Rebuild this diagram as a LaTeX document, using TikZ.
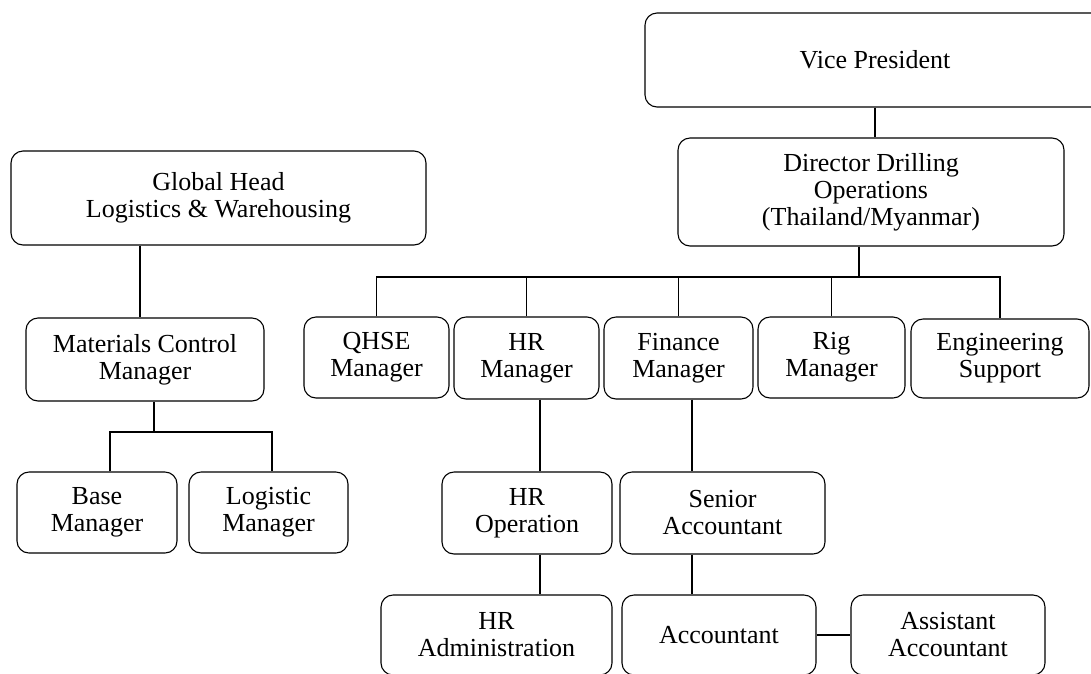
\documentclass[tikz,border=0pt]{standalone}
\usepackage{fontspec}
\setmainfont{Liberation Serif}
\tikzset{
  post/.style = {shape=rectangle, rounded corners=12pt,
                 draw, line width=1.1pt, align=center,
                 inner sep=0pt, font=\fontsize{26}{27}\selectfont},
  link/.style = {draw, line width=1.8pt}
}

\begin{document}
\begin{tikzpicture}
  [
  x = 1pt, y = -1pt,
  every node/.style = {post}
  ]
  \clip (0,0) rectangle (1091,673);

  % top of the chart
  \node (vp)  [minimum width=460pt, minimum height=94pt]  at (875,60)    {Vice President};
  \node (dir) [minimum width=386pt, minimum height=108pt] at (871,192)   {Director Drilling\\Operations\\(Thailand/Myanmar)};
  \node (gh)  [minimum width=415pt, minimum height=94pt]  at (218.5,198) {Global Head\\Logistics \& Warehousing};

  % second level
  \node (mcm)  [minimum width=238pt, minimum height=83pt] at (145,359.5)  {Materials Control\\Manager};
  \node (qhse) [minimum width=145pt, minimum height=81pt] at (376.5,357.5) {QHSE\\Manager};
  \node (hrm)  [minimum width=145pt, minimum height=82pt] at (526.5,358)  {HR\\Manager};
  \node (finm) [minimum width=149pt, minimum height=82pt] at (678.5,358)  {Finance\\Manager};
  \node (rig)  [minimum width=147pt, minimum height=81pt] at (831.5,357.5) {Rig\\Manager};
  \node (eng)  [minimum width=178pt, minimum height=79pt] at (1000,358.5) {Engineering\\Support};

  % third level
  \node (base) [minimum width=160pt, minimum height=81pt] at (97,512.5)    {Base\\Manager};
  \node (logm) [minimum width=159pt, minimum height=81pt] at (268.5,512.5) {Logistic\\Manager};
  \node (hrop) [minimum width=170pt, minimum height=82pt] at (527,513)     {HR\\Operation};
  \node (sacc) [minimum width=205pt, minimum height=82pt] at (722.5,513)   {Senior\\Accountant};

  % bottom row
  \node (hradm) [minimum width=231pt, minimum height=80pt] at (496.5,635) {HR\\Administration};
  \node (acc)   [minimum width=194pt, minimum height=80pt] at (719,635)   {Accountant};
  \node (aacc)  [minimum width=194pt, minimum height=80pt] at (948,635)   {Assistant\\Accountant};

  % connector columns
  \coordinate (bus)    at (859,277);
  \coordinate (ghline) at (140,0);
  \coordinate (mcmbus) at (154,432);
  \coordinate (hrline) at (540,0);
  \coordinate (finline) at (692,0);

  \draw[link] (vp.south) -- (vp.south |- dir.north);
  \draw[link] (dir.south -| bus) -- (bus);
  \draw[link] (qhse.north) |- (bus) -| (eng.north);
  \draw[link] (hrm.north) -- (hrm.north |- bus);
  \draw[link] (finm.north) -- (finm.north |- bus);
  \draw[link] (rig.north) -- (rig.north |- bus);

  \draw[link] (gh.south -| ghline) -- (mcm.north -| ghline);
  \draw[link] (mcm.south -| mcmbus) -- (mcmbus);
  \draw[link] ([xshift=13pt]base.north) |- (mcmbus) -| ([xshift=3.5pt]logm.north);

  \draw[link] (hrm.south -| hrline) -- (hrop.north -| hrline);
  \draw[link] (hrop.south -| hrline) -- (hradm.north -| hrline);
  \draw[link] (finm.south -| finline) -- (sacc.north -| finline);
  \draw[link] (sacc.south -| finline) -- (acc.north -| finline);
  \draw[link] (acc) -- (aacc);
\end{tikzpicture}
\end{document}
